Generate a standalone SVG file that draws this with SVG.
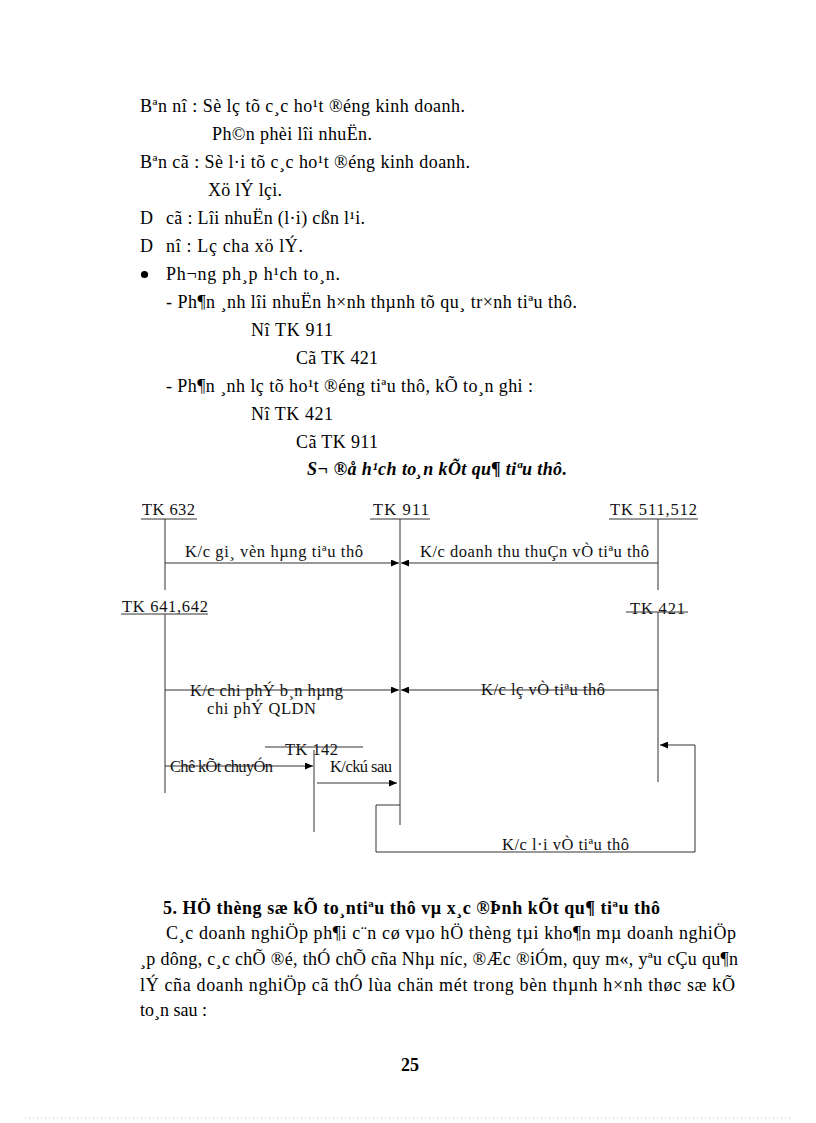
<svg xmlns="http://www.w3.org/2000/svg" width="816" height="1123" viewBox="0 0 816 1123">
<style>
.t{font-family:"Liberation Serif","Times New Roman",serif;font-size:18px;fill:#000}
.b{font-weight:bold}
.bi{font-weight:bold;font-style:italic}
.d{font-family:"Liberation Serif","Times New Roman",serif;font-size:16.5px;fill:#111}
.ln{stroke:#333;stroke-width:1;fill:none}
</style>
<defs>
<marker id="ah" markerUnits="userSpaceOnUse" markerWidth="8" markerHeight="7" refX="8" refY="3.5" orient="auto">
<path d="M0,0 L8,3.5 L0,7 z" fill="#000"/>
</marker>
</defs>
<rect x="0" y="0" width="816" height="1123" fill="#fff"/>

<g id="text-top">
<text class="t" x="140" y="112" textLength="325" lengthAdjust="spacing">Bªn nî : Sè lç tõ c¸c ho¹t ®éng kinh doanh.</text>
<text class="t" x="212" y="140" textLength="160" lengthAdjust="spacing">Ph©n phèi lîi nhuËn.</text>
<text class="t" x="140" y="168" textLength="330" lengthAdjust="spacing">Bªn cã : Sè l·i tõ c¸c ho¹t ®éng kinh doanh.</text>
<text class="t" x="208" y="196" textLength="74" lengthAdjust="spacing">Xö lÝ lçi.</text>
<text class="t" y="224"><tspan x="140">D</tspan><tspan x="166" textLength="199" lengthAdjust="spacing">cã : Lîi nhuËn (l·i) cßn l¹i.</tspan></text>
<text class="t" y="252"><tspan x="140">D</tspan><tspan x="166" textLength="137" lengthAdjust="spacing">nî : Lç cha xö lÝ.</tspan></text>
<circle cx="144.5" cy="274.5" r="3.6" fill="#000"/>
<text class="t" x="166" y="280" textLength="174" lengthAdjust="spacing">Ph¬ng ph¸p h¹ch to¸n.</text>
<text class="t" x="166" y="308" textLength="411" lengthAdjust="spacing">- Ph¶n ¸nh lîi nhuËn h×nh thµnh tõ qu¸ tr×nh tiªu thô.</text>
<text class="t" x="251" y="336" textLength="82" lengthAdjust="spacing">Nî TK 911</text>
<text class="t" x="296" y="364" textLength="82" lengthAdjust="spacing">Cã TK 421</text>
<text class="t" x="166" y="392" textLength="367" lengthAdjust="spacing">- Ph¶n ¸nh lç tõ ho¹t ®éng tiªu thô, kÕ to¸n ghi :</text>
<text class="t" x="251" y="420" textLength="82" lengthAdjust="spacing">Nî TK 421</text>
<text class="t" x="296" y="448" textLength="82" lengthAdjust="spacing">Cã TK 911</text>
<text class="t bi" x="307" y="475" textLength="260" lengthAdjust="spacing">S¬ ®å h¹ch to¸n kÕt qu¶ tiªu thô.</text>
</g>

<g id="tk632">
<text class="d" x="142" y="515" textLength="53" lengthAdjust="spacing">TK 632</text>
<line class="ln" x1="141" y1="519" x2="197" y2="519"/>
<line class="ln" x1="165" y1="519" x2="165" y2="590"/>
</g>
<g id="tk911">
<text class="d" x="373" y="515" textLength="56" lengthAdjust="spacing">TK 911</text>
<line class="ln" x1="370" y1="519" x2="430" y2="519"/>
<line class="ln" x1="400" y1="519" x2="400" y2="825"/>
</g>
<g id="tk511">
<text class="d" x="610" y="515" textLength="87" lengthAdjust="spacing">TK 511,512</text>
<line class="ln" x1="609" y1="519" x2="698" y2="519"/>
<line class="ln" x1="658" y1="519" x2="658" y2="590"/>
</g>
<g id="tk641">
<text class="d" x="122" y="612" textLength="86" lengthAdjust="spacing">TK 641,642</text>
<line class="ln" x1="121" y1="614" x2="208" y2="614"/>
<line class="ln" x1="165" y1="614" x2="165" y2="793"/>
</g>
<g id="tk421">
<text class="d" x="630" y="614" textLength="55" lengthAdjust="spacing">TK 421</text>
<line class="ln" x1="626" y1="612" x2="688" y2="612"/>
<line class="ln" x1="658" y1="612" x2="658" y2="782"/>
</g>
<g id="tk142">
<text class="d" x="285" y="755" textLength="53" lengthAdjust="spacing">TK 142</text>
<line class="ln" x1="265" y1="747" x2="363" y2="747"/>
<line class="ln" x1="314" y1="750" x2="314" y2="832"/>
</g>

<g id="connectors">
<line class="ln" x1="165" y1="563" x2="399" y2="563" marker-end="url(#ah)"/>
<text class="d" x="185" y="557" textLength="178" lengthAdjust="spacing">K/c gi¸ vèn hµng tiªu thô</text>
<line class="ln" x1="658" y1="563" x2="401" y2="563" marker-end="url(#ah)"/>
<text class="d" x="420" y="557" textLength="229" lengthAdjust="spacing">K/c doanh thu thuÇn vÒ tiªu thô</text>
<line class="ln" x1="165" y1="690" x2="399" y2="690" marker-end="url(#ah)"/>
<text class="d" x="190" y="696" textLength="153" lengthAdjust="spacing">K/c chi phÝ b¸n hµng</text>
<text class="d" x="207" y="714" textLength="109" lengthAdjust="spacing">chi phÝ QLDN</text>
<line class="ln" x1="658" y1="690" x2="401" y2="690" marker-end="url(#ah)"/>
<text class="d" x="481" y="695" textLength="124" lengthAdjust="spacing">K/c lç vÒ tiªu thô</text>
<line class="ln" x1="165" y1="766" x2="313" y2="766" marker-end="url(#ah)"/>
<text class="d" x="170" y="772" textLength="103" lengthAdjust="spacing">Chê kÕt chuyÓn</text>
<line class="ln" x1="317" y1="783" x2="397" y2="783" marker-end="url(#ah)"/>
<text class="d" x="330" y="772" textLength="62" lengthAdjust="spacing">K/ckú sau</text>
<polyline class="ln" points="400,805 376,805 376,852 695,852 695,745 660,745" marker-end="url(#ah)"/>
<text class="d" x="502" y="850" textLength="127" lengthAdjust="spacing">K/c l·i vÒ tiªu thô</text>
</g>

<g id="text-bottom">
<text class="t b" x="163" y="914" textLength="497" lengthAdjust="spacing">5. HÖ thèng sæ kÕ to¸ntiªu thô vµ x¸c ®Þnh kÕt qu¶ tiªu thô</text>
<text class="t" x="166" y="939" textLength="570" lengthAdjust="spacing">C¸c doanh nghiÖp ph¶i c¨n cø vµo hÖ thèng tµi kho¶n mµ doanh nghiÖp</text>
<text class="t" x="140" y="965" textLength="598" lengthAdjust="spacing">¸p dông, c¸c chÕ ®é, thÓ chÕ cña Nhµ níc,  ®Æc ®iÓm, quy m«, yªu cÇu qu¶n</text>
<text class="t" x="140" y="991" textLength="595" lengthAdjust="spacing">lÝ cña doanh nghiÖp cã thÓ lùa chän mét trong bèn thµnh h×nh thøc sæ kÕ</text>
<text class="t" x="140" y="1016">to¸n sau :</text>
<text class="t b" x="401" y="1071">25</text>
</g>
<line x1="25" y1="1118" x2="790" y2="1118" stroke="#bbb" stroke-width="1" stroke-dasharray="1,3"/>
</svg>
